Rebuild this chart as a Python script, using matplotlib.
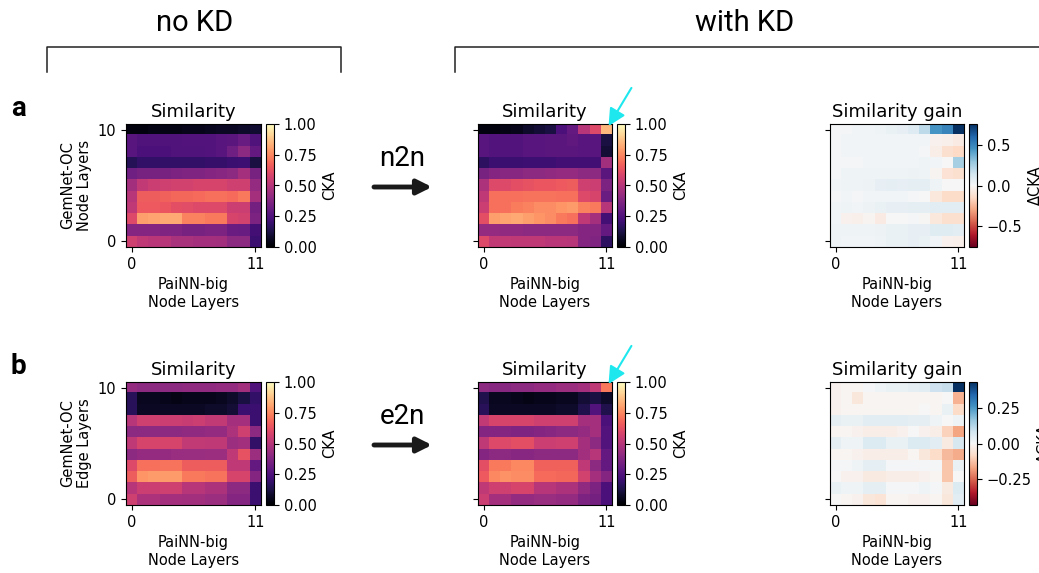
import numpy as np
import matplotlib
matplotlib.use('Agg')
import matplotlib.pyplot as plt
from matplotlib.lines import Line2D

# ====== data (rows listed top -> bottom, i.e. layer 10 first) ======
a_nokd = [
    [0.03, 0.03, 0.04, 0.04, 0.04, 0.05, 0.05, 0.06, 0.07, 0.07, 0.08, 0.09],
    [0.27, 0.25, 0.25, 0.25, 0.25, 0.26, 0.26, 0.26, 0.27, 0.28, 0.31, 0.25],
    [0.27, 0.24, 0.24, 0.24, 0.25, 0.25, 0.25, 0.26, 0.27, 0.33, 0.40, 0.30],
    [0.15, 0.18, 0.18, 0.18, 0.18, 0.18, 0.18, 0.19, 0.19, 0.20, 0.21, 0.12],
    [0.33, 0.35, 0.35, 0.35, 0.36, 0.37, 0.37, 0.38, 0.39, 0.40, 0.46, 0.35],
    [0.45, 0.53, 0.55, 0.56, 0.57, 0.57, 0.58, 0.58, 0.58, 0.56, 0.56, 0.42],
    [0.50, 0.66, 0.66, 0.67, 0.68, 0.68, 0.69, 0.70, 0.70, 0.69, 0.72, 0.46],
    [0.52, 0.65, 0.65, 0.64, 0.62, 0.61, 0.60, 0.60, 0.60, 0.55, 0.55, 0.34],
    [0.60, 0.80, 0.81, 0.82, 0.82, 0.74, 0.74, 0.72, 0.72, 0.58, 0.57, 0.36],
    [0.38, 0.38, 0.38, 0.37, 0.37, 0.35, 0.35, 0.36, 0.36, 0.32, 0.31, 0.22],
    [0.56, 0.52, 0.51, 0.50, 0.47, 0.47, 0.46, 0.46, 0.45, 0.40, 0.40, 0.20],
]
a_kd = [
    [0.03, 0.03, 0.04, 0.05, 0.08, 0.10, 0.12, 0.24, 0.30, 0.50, 0.60, 0.85],
    [0.27, 0.26, 0.26, 0.26, 0.27, 0.27, 0.28, 0.28, 0.29, 0.27, 0.27, 0.12],
    [0.27, 0.26, 0.26, 0.26, 0.27, 0.27, 0.28, 0.28, 0.28, 0.27, 0.27, 0.10],
    [0.17, 0.20, 0.20, 0.20, 0.21, 0.21, 0.21, 0.22, 0.22, 0.22, 0.22, 0.45],
    [0.35, 0.38, 0.39, 0.39, 0.40, 0.40, 0.41, 0.42, 0.42, 0.40, 0.40, 0.28],
    [0.48, 0.60, 0.60, 0.62, 0.63, 0.64, 0.64, 0.65, 0.66, 0.56, 0.55, 0.36],
    [0.52, 0.70, 0.70, 0.70, 0.71, 0.71, 0.71, 0.70, 0.70, 0.60, 0.58, 0.32],
    [0.55, 0.70, 0.70, 0.73, 0.74, 0.76, 0.76, 0.78, 0.79, 0.74, 0.72, 0.50],
    [0.62, 0.80, 0.81, 0.82, 0.80, 0.78, 0.76, 0.72, 0.70, 0.52, 0.46, 0.22],
    [0.42, 0.42, 0.41, 0.41, 0.40, 0.40, 0.40, 0.40, 0.40, 0.38, 0.38, 0.30],
    [0.60, 0.53, 0.53, 0.52, 0.52, 0.52, 0.51, 0.51, 0.50, 0.38, 0.37, 0.17],
]
a_gain = [
    [0.01, 0.01, 0.02, 0.02, 0.03, 0.05, 0.06, 0.10, 0.20, 0.45, 0.50, 0.76],
    [0.01, 0.02, 0.02, 0.02, 0.02, 0.02, 0.02, 0.02, 0.02, -0.03, -0.04, -0.06],
    [0.01, 0.02, 0.02, 0.02, 0.02, 0.02, 0.02, 0.02, 0.01, -0.05, -0.12, -0.15],
    [0.01, 0.01, 0.01, 0.02, 0.02, 0.02, 0.02, 0.02, 0.03, 0.02, 0.00, 0.25],
    [0.01, 0.03, 0.03, 0.03, 0.03, 0.03, 0.03, 0.04, 0.03, -0.02, -0.11, -0.12],
    [0.02, 0.03, 0.03, 0.04, 0.06, 0.07, 0.06, 0.07, 0.07, 0.03, 0.00, 0.00],
    [0.01, 0.02, 0.01, 0.02, 0.02, 0.02, 0.02, 0.01, 0.00, -0.08, -0.14, -0.14],
    [0.02, 0.03, 0.02, 0.04, 0.05, 0.06, 0.06, 0.07, 0.07, 0.08, 0.08, 0.08],
    [0.02, -0.03, -0.04, -0.02, -0.06, 0.00, 0.00, 0.01, -0.01, -0.08, -0.12, -0.12],
    [0.03, 0.03, 0.03, 0.03, 0.04, 0.05, 0.05, 0.06, 0.06, 0.09, 0.09, 0.08],
    [0.03, 0.02, 0.02, 0.02, 0.03, 0.05, 0.05, 0.06, 0.05, 0.02, -0.03, -0.04],
]
b_nokd = [
    [0.42, 0.40, 0.40, 0.40, 0.40, 0.41, 0.41, 0.41, 0.42, 0.42, 0.45, 0.25],
    [0.16, 0.06, 0.06, 0.05, 0.04, 0.05, 0.05, 0.05, 0.06, 0.08, 0.12, 0.18],
    [0.16, 0.07, 0.07, 0.07, 0.07, 0.07, 0.07, 0.08, 0.08, 0.10, 0.20, 0.20],
    [0.50, 0.56, 0.56, 0.55, 0.55, 0.54, 0.55, 0.53, 0.53, 0.46, 0.46, 0.20],
    [0.40, 0.40, 0.40, 0.40, 0.40, 0.41, 0.41, 0.42, 0.42, 0.48, 0.56, 0.40],
    [0.52, 0.58, 0.58, 0.58, 0.58, 0.53, 0.53, 0.52, 0.52, 0.44, 0.45, 0.18],
    [0.40, 0.42, 0.42, 0.42, 0.43, 0.43, 0.43, 0.44, 0.44, 0.52, 0.63, 0.44],
    [0.60, 0.70, 0.70, 0.71, 0.71, 0.66, 0.66, 0.66, 0.66, 0.52, 0.52, 0.30],
    [0.66, 0.78, 0.79, 0.79, 0.79, 0.72, 0.72, 0.71, 0.71, 0.58, 0.58, 0.38],
    [0.50, 0.55, 0.55, 0.56, 0.56, 0.50, 0.50, 0.48, 0.48, 0.40, 0.40, 0.20],
    [0.56, 0.48, 0.48, 0.46, 0.46, 0.45, 0.45, 0.44, 0.44, 0.38, 0.38, 0.20],
]
b_kd = [
    [0.40, 0.39, 0.39, 0.40, 0.40, 0.42, 0.42, 0.44, 0.44, 0.46, 0.52, 0.72],
    [0.14, 0.06, 0.06, 0.05, 0.04, 0.05, 0.05, 0.06, 0.06, 0.10, 0.12, 0.08],
    [0.16, 0.07, 0.07, 0.07, 0.07, 0.07, 0.07, 0.08, 0.08, 0.14, 0.26, 0.14],
    [0.53, 0.58, 0.58, 0.58, 0.58, 0.56, 0.56, 0.56, 0.56, 0.46, 0.46, 0.24],
    [0.38, 0.38, 0.38, 0.37, 0.37, 0.38, 0.39, 0.40, 0.40, 0.42, 0.46, 0.26],
    [0.52, 0.60, 0.60, 0.62, 0.62, 0.55, 0.55, 0.56, 0.56, 0.46, 0.40, 0.26],
    [0.38, 0.40, 0.40, 0.39, 0.39, 0.40, 0.40, 0.40, 0.40, 0.45, 0.50, 0.30],
    [0.62, 0.72, 0.72, 0.75, 0.75, 0.67, 0.67, 0.67, 0.67, 0.52, 0.40, 0.30],
    [0.65, 0.75, 0.77, 0.76, 0.76, 0.69, 0.69, 0.68, 0.68, 0.57, 0.46, 0.38],
    [0.52, 0.56, 0.56, 0.58, 0.58, 0.50, 0.50, 0.48, 0.48, 0.41, 0.36, 0.24],
    [0.55, 0.46, 0.46, 0.42, 0.42, 0.43, 0.43, 0.42, 0.42, 0.36, 0.34, 0.24],
]
b_gain = [
    [-0.02, -0.01, -0.01, 0.01, 0.02, 0.03, 0.03, 0.04, 0.05, 0.09, 0.10, 0.43],
    [-0.02, -0.01, -0.05, -0.01, -0.01, -0.01, -0.01, -0.01, -0.01, -0.01, 0.00, -0.15],
    [-0.02, -0.01, -0.01, -0.01, -0.01, -0.01, -0.01, -0.01, 0.00, -0.01, 0.03, -0.08],
    [0.04, 0.03, 0.03, 0.05, 0.05, 0.05, 0.05, 0.04, 0.04, 0.02, 0.00, 0.02],
    [-0.01, -0.01, -0.02, -0.03, -0.03, -0.03, -0.02, 0.00, -0.02, -0.03, -0.10, -0.17],
    [0.04, 0.02, 0.02, 0.06, 0.06, 0.03, 0.03, 0.06, 0.06, 0.05, -0.04, 0.07],
    [-0.01, -0.01, -0.02, -0.03, -0.03, -0.03, -0.03, -0.01, -0.05, -0.08, -0.14, -0.16],
    [0.01, 0.01, 0.02, 0.04, 0.04, 0.01, 0.01, 0.01, 0.01, 0.01, -0.12, 0.03],
    [0.00, -0.02, -0.02, -0.04, -0.04, -0.03, -0.03, -0.03, -0.02, -0.01, -0.12, 0.00],
    [0.03, 0.02, 0.02, 0.04, 0.04, 0.01, 0.01, 0.01, 0.02, 0.01, -0.04, 0.06],
    [0.00, -0.01, -0.02, -0.05, -0.06, -0.01, -0.01, -0.02, -0.02, -0.01, -0.05, 0.05],
]
gain_lim_a = 0.76
gain_lim_b = 0.43
row_ylabels = ['GemNet-OC\nNode Layers', 'GemNet-OC\nEdge Layers']
kd_modes = ['n2n', 'e2n']

# ====== figure ======
W, H = 1039, 573
fig = plt.figure(figsize=(W / 100, H / 100), dpi=100)
plt.rcParams['font.family'] = ['DejaVu Sans']
ann_font = 'Roboto'


def px_axes(x0, y0, x1, y1):
    # pixel box (top-left origin) -> figure axes
    return fig.add_axes([x0 / W, 1 - y1 / H, (x1 - x0) / W, (y1 - y0) / H])


def heatmap(ax, cax, data, cmap, vmin, vmax, title, ylabel, cbar_ticks, cbar_label):
    arr = np.array(data)
    im = ax.imshow(arr, cmap=cmap, vmin=vmin, vmax=vmax, origin='upper',
                   extent=(-0.5, arr.shape[1] - 0.5, -0.5, arr.shape[0] - 0.5),
                   aspect='auto', interpolation='nearest')
    ax.set_xticks([0, 11])
    ax.set_yticks([0, 10])
    ax.tick_params(labelsize=10.5)
    if ylabel:
        ax.set_ylabel(ylabel, fontsize=10.5)
    else:
        ax.set_yticklabels([])
    ax.set_xlabel('PaiNN-big\nNode Layers', fontsize=10.5)
    ax.set_title(title, fontsize=13, pad=5)
    cb = fig.colorbar(im, cax=cax, ticks=cbar_ticks)
    cb.ax.tick_params(labelsize=10.5)
    cb.set_label(cbar_label, fontsize=10.5)
    return im


rows = [
    (124, 247, a_nokd, a_kd, a_gain, gain_lim_a, [-0.5, 0, 0.5]),
    (382, 505, b_nokd, b_kd, b_gain, gain_lim_b, [-0.25, 0, 0.25]),
]
for i, (yt, yb, nokd, kd, gain, glim, gticks) in enumerate(rows):
    ax1 = px_axes(126, yt, 261, yb)
    cx1 = px_axes(266, yt, 274, yb)
    heatmap(ax1, cx1, nokd, 'magma', 0, 1, 'Similarity', row_ylabels[i],
            [0, 0.25, 0.5, 0.75, 1.0], 'CKA')
    ax2 = px_axes(478, yt, 612, yb)
    cx2 = px_axes(617, yt, 625, yb)
    heatmap(ax2, cx2, kd, 'magma', 0, 1, 'Similarity', None,
            [0, 0.25, 0.5, 0.75, 1.0], 'CKA')
    ax3 = px_axes(830, yt, 964, yb)
    cx3 = px_axes(969, yt, 977, yb)
    heatmap(ax3, cx3, gain, 'RdBu', -glim, glim, 'Similarity gain', None,
            gticks, 'ΔCKA')

    # cyan arrow pointing at the top-right cell of the KD map
    ax2.annotate('', xy=(11, 10), xycoords='data',
                 xytext=(18, 30), textcoords='offset points',
                 arrowprops=dict(arrowstyle='-|>', color='#1ee8ee', lw=1.5,
                                 mutation_scale=26, shrinkA=0, shrinkB=3),
                 annotation_clip=False)

    # black arrow with the KD mode
    ymid = yt + 63
    fig.text(402 / W, 1 - (ymid - 29) / H, kd_modes[i], fontsize=20,
             family=ann_font, ha='center', va='center')
    fig.add_artist(matplotlib.patches.FancyArrowPatch(
        (374 / W, 1 - ymid / H), (432 / W, 1 - ymid / H),
        transform=fig.transFigure, arrowstyle='-|>', color='#1a1a1a',
        lw=3.5, mutation_scale=22, shrinkA=0, shrinkB=0))

    # panel letter
    fig.text(18 / W, 1 - (yt - 16) / H, 'ab'[i], fontsize=20, fontweight='bold',
             family=ann_font, ha='center', va='center')

# ====== headers and brackets ======
fig.text(195 / W, 1 - 23 / H, 'no KD', fontsize=21, family=ann_font,
         ha='center', va='center')
fig.text(745 / W, 1 - 23 / H, 'with KD', fontsize=21, family=ann_font,
         ha='center', va='center')


def pxline(xs, ys):
    fig.add_artist(Line2D([x / W for x in xs], [1 - y / H for y in ys],
                          transform=fig.transFigure, color='#222222', lw=1.1))


pxline([47, 47, 341, 341], [72, 47, 47, 72])
pxline([455, 455, 1045], [72, 47, 47])

fig.savefig('out.png', dpi=100)
